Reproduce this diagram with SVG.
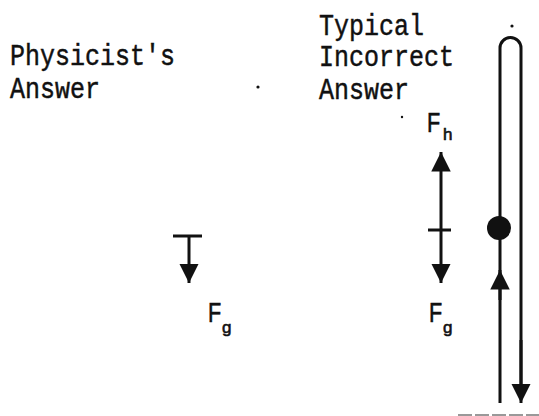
<svg xmlns="http://www.w3.org/2000/svg" width="539" height="416" viewBox="0 0 539 416">
<style>
.tw{font-family:"Liberation Mono","Courier New",monospace;font-size:25px;fill:#111;stroke:#111;stroke-width:0.4}
.f{font-family:"Liberation Sans",Arial,sans-serif;font-size:27px;fill:#111;stroke:#111;stroke-width:0.6}
.s{font-family:"Liberation Sans",Arial,sans-serif;font-size:17px;fill:#111;stroke:#111;stroke-width:0.6}
.ln{stroke:#111;stroke-width:3;fill:none}
</style>
<defs>
<marker id="ah" viewBox="0 0 10 10" refX="10" refY="5" markerWidth="6.5" markerHeight="6.5" markerUnits="strokeWidth" orient="auto">
<path d="M0,0 L10,5 L0,10 z" fill="#111"/>
</marker>
</defs>
<rect width="539" height="416" fill="#fff"/>
<g id="label-physicist">
<text class="tw" transform="translate(10,65) scale(1,1.15)">Physicist's</text>
<text class="tw" transform="translate(10,98) scale(1,1.15)">Answer</text>
</g>
<g id="label-incorrect">
<text class="tw" transform="translate(319,35) scale(1,1.15)">Typical</text>
<text class="tw" transform="translate(319,66) scale(1,1.15)">Incorrect</text>
<text class="tw" transform="translate(319,99) scale(1,1.15)">Answer</text>
</g>
<g id="specks" fill="#111">
<circle cx="258" cy="87" r="1.6"/>
<circle cx="402" cy="117" r="1.2"/>
<circle cx="512" cy="26" r="1.6"/>
</g>
<g id="physicist-force">
<line class="ln" x1="173" y1="236" x2="202" y2="236"/>
<text class="f" transform="translate(208,322) scale(0.8,1)">F</text>
<text class="s" x="222" y="333">g</text>
</g>
<g id="incorrect-forces">
<line class="ln" x1="428" y1="230" x2="451" y2="230"/>
<text class="f" transform="translate(427,132) scale(0.8,1)">F</text>
<text class="s" x="443" y="140">h</text>
<text class="f" transform="translate(429,322) scale(0.8,1)">F</text>
<text class="s" x="443" y="333">g</text>
</g>
<g id="tube">
<path class="ln" d="M500,403 V48 A10.5,10.5 0 0 1 521,48 V390"/>
<circle cx="499" cy="228" r="12" fill="#111"/>
</g>
<g id="connectors">
<line class="ln" x1="189" y1="236" x2="189" y2="283" marker-end="url(#ah)"/>
<line class="ln" x1="441" y1="230" x2="441" y2="152" marker-end="url(#ah)"/>
<line class="ln" x1="441" y1="230" x2="441" y2="283" marker-end="url(#ah)"/>
<line class="ln" x1="500" y1="300" x2="500" y2="270" marker-end="url(#ah)"/>
<line class="ln" x1="521" y1="340" x2="521" y2="403" marker-end="url(#ah)"/>
</g>
<line x1="458" y1="415" x2="539" y2="415" stroke="#999" stroke-width="2" stroke-dasharray="14,3"/>
</svg>
